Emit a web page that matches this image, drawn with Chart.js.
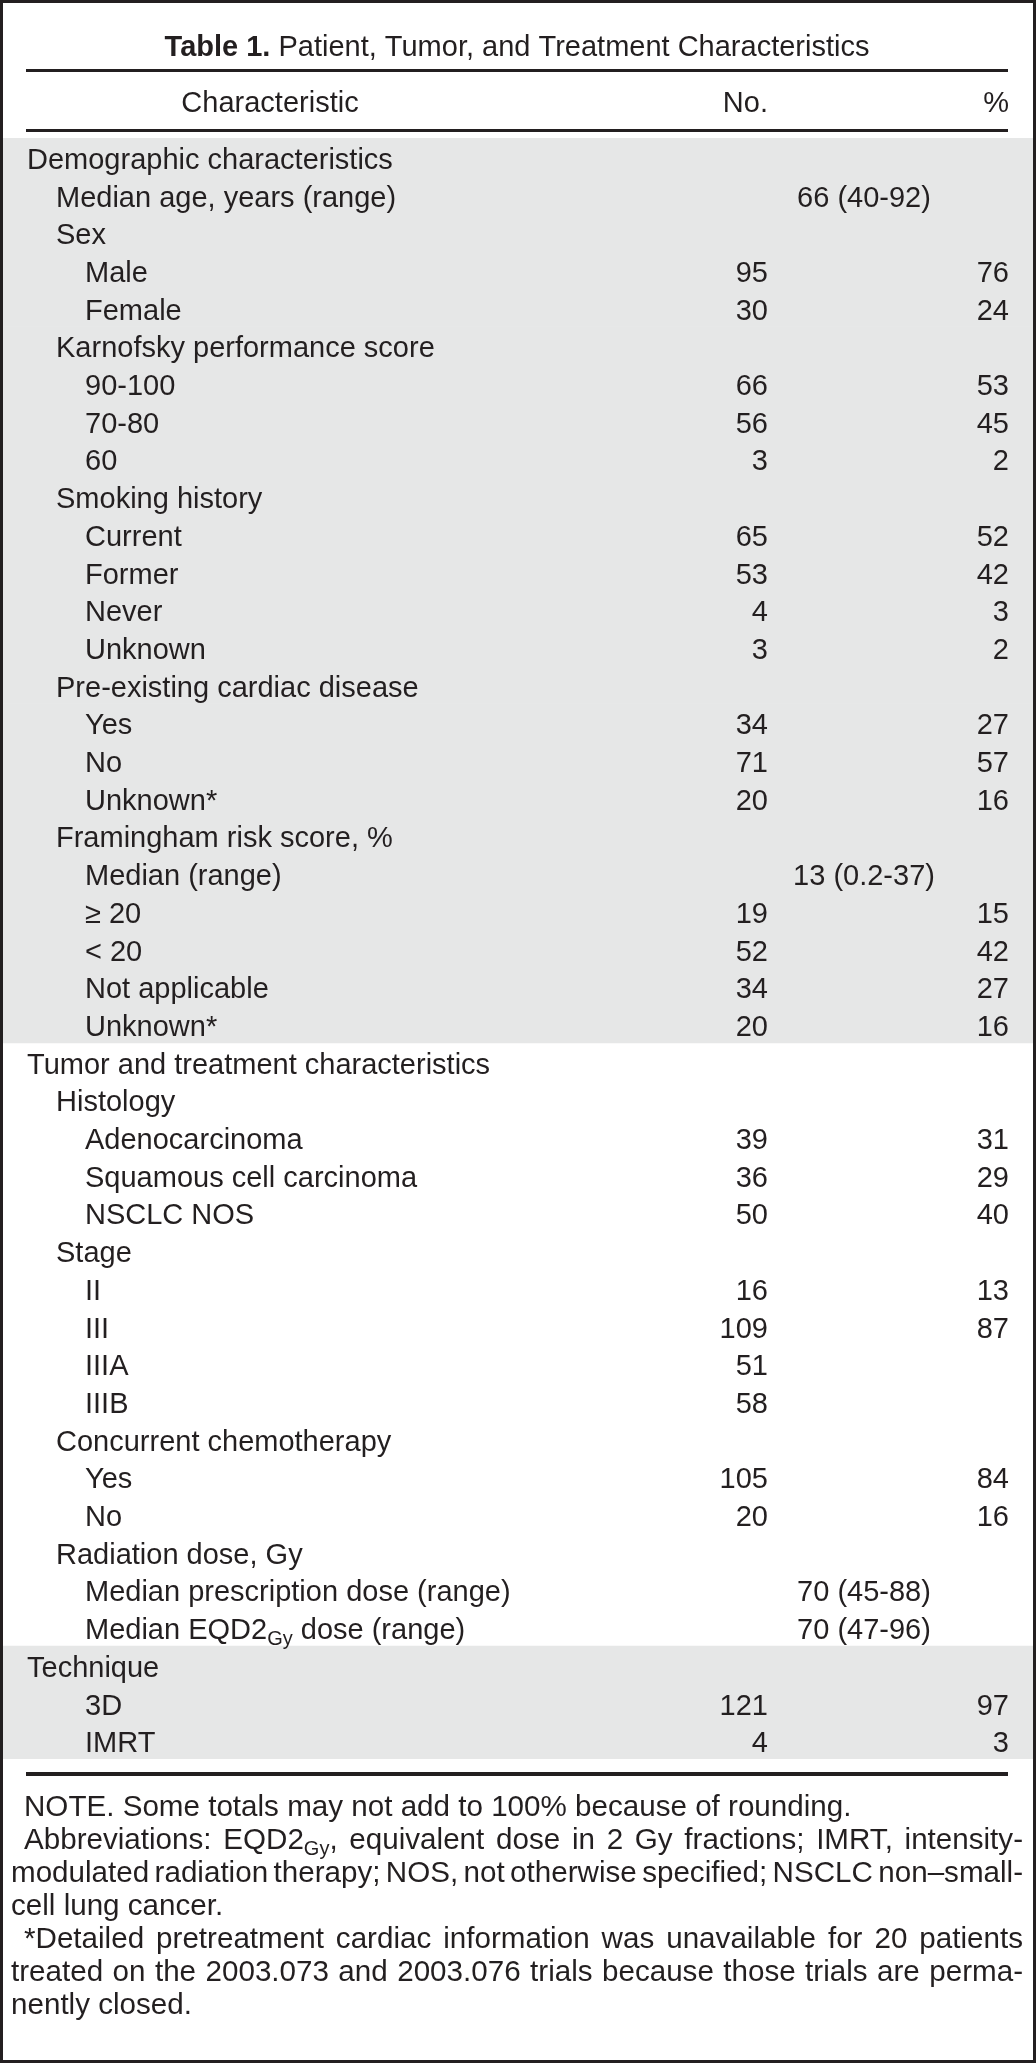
<!DOCTYPE html>
<html><head><meta charset="utf-8">
<script src="https://cdn.jsdelivr.net/npm/chart.js@4/dist/chart.umd.min.js"></script>
<style>
html,body{margin:0;padding:0;background:#fff;}
#page{position:relative;width:1036px;height:2063px;overflow:hidden;background:#fff;}
#frame{position:absolute;left:0;top:0;width:1036px;height:2063px;box-sizing:border-box;border:3px solid #231f20;pointer-events:none;z-index:3}
#c{position:absolute;left:0;top:0;}
#notes{position:absolute;left:11px;top:1789px;width:1012px;font:29.6px "Liberation Sans",Arial,sans-serif;line-height:33px;color:#231f20;}
.ln{white-space:nowrap}
.ind{padding-left:13px}
.sb{font-size:20px;position:relative;top:6px;line-height:0}
</style></head>
<body><div id="page"><canvas id="c" width="1036" height="1790"></canvas>
<div id="notes">
<div class="ln ind"><span>NOTE. Some totals may not add to 100% because of rounding.</span></div>
<div class="ln ind j"><span>Abbreviations: EQD2<span class="sb">Gy</span>, equivalent dose in 2 Gy fractions; IMRT, intensity-</span></div>
<div class="ln j"><span>modulated radiation therapy; NOS, not otherwise specified; NSCLC non–small-</span></div>
<div class="ln"><span>cell lung cancer.</span></div>
<div class="ln ind j"><span>*Detailed pretreatment cardiac information was unavailable for 20 patients</span></div>
<div class="ln j"><span>treated on the 2003.073 and 2003.076 trials because those trials are perma-</span></div>
<div class="ln"><span>nently closed.</span></div>
</div>
<div id="frame"></div></div>
<script>
const titleBold = "Table 1.";
const titleText = "Patient, Tumor, and Treatment Characteristics";
const headerLabels = ["Characteristic", "No.", "%"];
const rowLabels = [
"Demographic characteristics","Median age, years (range)","Sex","Male","Female",
"Karnofsky performance score","90-100","70-80","60",
"Smoking history","Current","Former","Never","Unknown",
"Pre-existing cardiac disease","Yes","No","Unknown*",
"Framingham risk score, %","Median (range)","≥ 20","< 20","Not applicable","Unknown*",
"Tumor and treatment characteristics","Histology","Adenocarcinoma","Squamous cell carcinoma","NSCLC NOS",
"Stage","II","III","IIIA","IIIB",
"Concurrent chemotherapy","Yes","No",
"Radiation dose, Gy","Median prescription dose (range)","Median EQD2~Gy~ dose (range)",
"Technique","3D","IMRT"];
const rowLevels = [0,1,1,2,2,1,2,2,2,1,2,2,2,2,1,2,2,2,1,2,2,2,2,2,0,1,2,2,2,1,2,2,2,2,1,2,2,1,2,2,0,2,2];
const countValues = [null,null,null,95,30,null,66,56,3,null,65,53,4,3,null,34,71,20,null,null,19,52,34,20,null,null,39,36,50,null,16,109,51,58,null,105,20,null,null,null,null,121,4];
const percentValues = [null,null,null,76,24,null,53,45,2,null,52,42,3,2,null,27,57,16,null,null,15,42,27,16,null,null,31,29,40,null,13,87,null,null,null,84,16,null,null,null,null,97,3];
const medianValues = [null,"66 (40-92)",
null,null,null,null,null,null,null,null,null,null,null,null,null,null,null,null,null,
"13 (0.2-37)",
null,null,null,null,null,null,null,null,null,null,null,null,null,null,null,null,null,null,
"70 (45-88)","70 (47-96)",null,null,null];
const shadedRows = [1,1,1,1,1,1,1,1,1,1,1,1,1,1,1,1,1,1,1,1,1,1,1,1,0,0,0,0,0,0,0,0,0,0,0,0,0,0,0,0,1,1,1];

const FONT = '"Liberation Sans", Arial, sans-serif';
const INK = '#231f20';
const SHADE = '#e6e7e7';
const X_MIN = 0, X_MAX = 1036;
const BODY_TOP = 138, ROW_H = 37.7, CANVAS_H = 1790;
const FS = 29;
const indentX = [27, 56, 85];
const COL_CHAR = 270, COL_NO = 768, COL_MED = 864, COL_PCT = 1009;
const RULE_L = 26, RULE_R = 1008;

// justify footnote lines exactly (fixed line breaks as in the source)
document.querySelectorAll('#notes .j').forEach(div => {
  const span = div.firstElementChild;
  const pad = parseFloat(getComputedStyle(div).paddingLeft) || 0;
  const avail = div.clientWidth - pad;
  const w = span.getBoundingClientRect().width;
  const spaces = (span.textContent.match(/ /g) || []).length;
  if (spaces) div.style.wordSpacing = ((avail - w) / spaces) + 'px';
});

function drawRich(ctx, text, x, y) {
  const parts = text.split('~');
  let cx = x;
  parts.forEach((p, i) => {
    if (!p) return;
    const sub = i % 2 === 1;
    ctx.font = (sub ? 20 : FS) + 'px ' + FONT;
    ctx.fillText(p, cx, y + (sub ? 6 : 0));
    cx += ctx.measureText(p).width;
  });
}

const tablePlugin = {
  id: 'tableText',
  afterDatasetsDraw(chart) {
    const ctx = chart.ctx, xs = chart.scales.x, ys = chart.scales.y;
    const px = v => xs.getPixelForValue(v);
    ctx.save();
    ctx.fillStyle = INK;
    ctx.textBaseline = 'alphabetic';
    // title
    ctx.font = 'bold ' + FS + 'px ' + FONT;
    const wb = ctx.measureText(titleBold).width;
    ctx.font = FS + 'px ' + FONT;
    const ws = ctx.measureText(' ').width, wt = ctx.measureText(titleText).width;
    let tx = px((RULE_L + RULE_R) / 2) - (wb + ws + wt) / 2;
    ctx.textAlign = 'left';
    ctx.font = 'bold ' + FS + 'px ' + FONT; ctx.fillText(titleBold, tx, 56);
    ctx.font = FS + 'px ' + FONT; ctx.fillText(titleText, tx + wb + ws, 56);
    // rules
    ctx.fillRect(px(RULE_L), 69, px(RULE_R) - px(RULE_L), 3);
    ctx.fillRect(px(RULE_L), 129, px(RULE_R) - px(RULE_L), 3);
    ctx.fillRect(px(RULE_L), 1772, px(RULE_R) - px(RULE_L), 4);
    // header
    ctx.font = FS + 'px ' + FONT;
    ctx.textAlign = 'center'; ctx.fillText(headerLabels[0], px(COL_CHAR), 112);
    ctx.textAlign = 'right'; ctx.fillText(headerLabels[1], px(COL_NO), 112);
    ctx.fillText(headerLabels[2], px(COL_PCT), 112);
    // rows
    rowLabels.forEach((lab, i) => {
      const yb = ys.getPixelForValue(i) + 12;
      ctx.textAlign = 'left';
      drawRich(ctx, lab, px(indentX[rowLevels[i]]), yb);
      ctx.font = FS + 'px ' + FONT;
      if (countValues[i] !== null) { ctx.textAlign = 'right'; ctx.fillText(String(countValues[i]), px(COL_NO), yb); }
      if (percentValues[i] !== null) { ctx.textAlign = 'right'; ctx.fillText(String(percentValues[i]), px(COL_PCT), yb); }
      if (medianValues[i] !== null) { ctx.textAlign = 'center'; ctx.fillText(medianValues[i], px(COL_MED), yb); }
    });
    ctx.restore();
  }
};

new Chart(document.getElementById('c'), {
  type: 'bar',
  data: {
    labels: rowLabels.map(l => l.replace(/~/g, '')),
    datasets: [{
      data: shadedRows.map(s => s ? [X_MIN, X_MAX] : null),
      backgroundColor: SHADE, borderWidth: 0, barPercentage: 1, categoryPercentage: 1
    }]
  },
  options: {
    indexAxis: 'y', responsive: false, animation: false, devicePixelRatio: 1,
    layout: { padding: { top: BODY_TOP, bottom: CANVAS_H - (BODY_TOP + rowLabels.length * ROW_H), left: 0, right: 0 } },
    scales: {
      x: { type: 'linear', min: X_MIN, max: X_MAX, display: false },
      y: { type: 'category', display: false, offset: true, grid: { display: false } }
    },
    plugins: { legend: { display: false }, tooltip: { enabled: false }, title: { display: false } }
  },
  plugins: [tablePlugin]
});
</script>
</body></html>
